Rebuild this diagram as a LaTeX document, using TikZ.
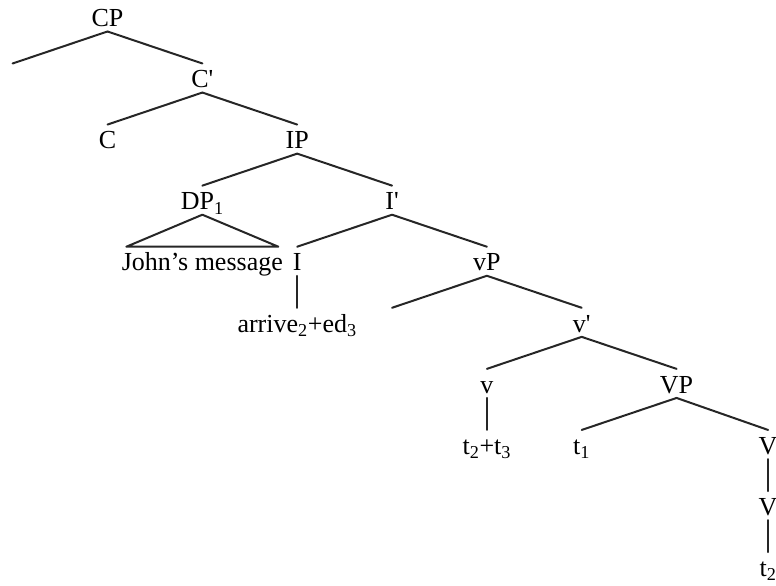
\documentclass[tikz,border=0pt]{standalone}
\usepackage{fontspec}
\setmainfont{Liberation Serif}
\begin{document}
\begin{tikzpicture}[x=2.5cm, y=-1.61cm,
    cat/.style={anchor=base, inner xsep=0pt, inner ysep=3.4pt,
        text height=14.6pt, text depth=0pt,
        font=\fontsize{19.5}{23}\selectfont},
    edge/.style={xshift=-2.5pt},
    branch/.style={line width=1.5pt, black!85, line cap=round}]
    \useasboundingbox (-9.5pt,20pt) rectangle (572.5pt,-419.5pt);

    % Các nút của cây (cột, hàng)
    \node[cat] (CP)   at (1,0) {CP};
    \node[cat] (Spec) at (0,1) {};
    \node[cat] (Cbar) at (2,1) {C\textquotesingle};
    \node[cat] (C)    at (1,2) {C};
    \node[cat] (IP)   at (3,2) {IP};
    \node[cat] (DP)   at (2,3) {DP\textsubscript{1}};
    \node[cat] (Ibar) at (4,3) {I\textquotesingle};
    \node[cat] (John) at (2,4) {John’s message};
    \node[cat] (I)    at (3,4) {I};
    \node[cat] (vP)   at (5,4) {vP};
    \node[cat] (arr)  at (3,5) {arrive\textsubscript{2}+ed\textsubscript{3}};
    \node[cat] (vSpec) at (4,5) {};
    \node[cat] (vbar) at (6,5) {v\textquotesingle};
    \node[cat] (v)    at (5,6) {v};
    \node[cat] (VP)   at (7,6) {VP};
    \node[cat] (tt)   at (5,7) {t\textsubscript{2}+t\textsubscript{3}};
    \node[cat] (t1)   at (6,7) {t\textsubscript{1}};
    \node[cat, edge] (Va) at (8,7) {V};
    \node[cat, edge] (Vb) at (8,8) {V};
    \node[cat, edge] (t2) at (8,9) {t\textsubscript{2}};

    % Các nhánh
    \foreach \a/\b in {CP/Spec, CP/Cbar, Cbar/C, Cbar/IP, IP/DP, IP/Ibar,
        Ibar/I, Ibar/vP, I/arr, vP/vSpec, vP/vbar, vbar/v, vbar/VP,
        v/tt, VP/t1, VP/Va, Va/Vb, Vb/t2} {
        \draw[branch] (\a.south) -- (\b.north);
    }

    % Tam giác cho DP
    \draw[branch, line join=round] (DP.south) -- ([xshift=-57pt]John.north)
        -- ([xshift=57pt]John.north) -- cycle;

\end{tikzpicture}
\end{document}
